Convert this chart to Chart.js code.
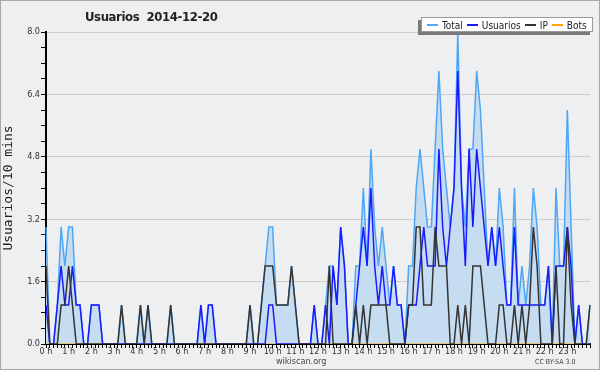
<!DOCTYPE html>
<html lang="es">
<head>
  <meta charset="UTF-8" />
  <title>Usuarios 2014-12-20</title>
  <script src="https://cdn.jsdelivr.net/npm/chart.js"></script>
  <style>
    body {
      margin: 0;
      background: #fff;
    }

    .wrap {
      position: relative;
      width: 600px;
      height: 370px;
      background: #eeeff1;
      font-family: "DejaVu Sans Condensed", "DejaVu Sans", sans-serif;
      color: #222;
    }

    .wrap canvas {
      position: absolute;
      left: 0;
      top: 0;
    }

    .frame {
      position: absolute;
      left: 0;
      top: 0;
      width: 600px;
      height: 370px;
      box-sizing: border-box;
      border: 1px solid #a8a8a8;
      pointer-events: none;
    }

    .titulo {
      position: absolute;
      left: 85px;
      top: 9px;
      font-weight: bold;
      font-size: 13px;
      letter-spacing: -0.4px;
      white-space: pre;
    }

    .leyenda {
      position: absolute;
      left: 421px;
      top: 17px;
      width: 172px;
      height: 15px;
      box-sizing: border-box;
      background: #fff;
      border: 1px solid #999;
      box-shadow: -3px 3px 0 #7a7a7a;
      font-size: 10px;
      line-height: 13px;
      padding-left: 4px;
      white-space: nowrap;
    }

    .leyenda span {
      display: inline-block;
      vertical-align: middle;
    }

    .leyenda .linea {
      width: 11px;
      height: 2px;
      margin: 0 4px 0 1px;
    }

    .pie {
      position: absolute;
      top: 356px;
      font-size: 9px;
      color: #444;
    }
  </style>
</head>
<body>

  <div class="wrap">
    <canvas id="grafico" width="600" height="370"></canvas>
    <div class="titulo">Usuarios  2014-12-20</div>
    <div class="leyenda" id="leyenda"></div>
    <div class="pie" style="left:276px;">wikiscan.org</div>
    <div class="pie" style="left:535px; top:358px; font-size:7px;">CC BY-SA 3.0</div>
    <div class="frame"></div>
  </div>

  <script>
    // horas del eje X (un punto cada 10 minutos, 0 h .. 24 h)
    const horas = ['0 h', '1 h', '2 h', '3 h', '4 h', '5 h', '6 h', '7 h', '8 h', '9 h', '10 h', '11 h',
                   '12 h', '13 h', '14 h', '15 h', '16 h', '17 h', '18 h', '19 h', '20 h', '21 h', '22 h', '23 h'];

    const usuarios = [
      1,0,0,1,2,1,1,2,1,1,0,0,
      1,1,1,0,0,0,0,0,0,0,0,0,
      0,0,0,0,0,0,0,0,0,0,0,0,
      0,0,0,0,0,1,0,1,1,0,0,0,
      0,0,0,0,0,0,0,0,0,0,0,1,
      1,0,0,0,0,0,0,0,0,0,0,1,
      0,0,1,0,2,1,3,2,0,0,1,2,
      3,2,4,2,1,2,1,1,2,1,1,0,
      1,1,1,2,3,2,2,2,5,3,2,3,
      4,7,4,2,5,3,5,4,3,2,3,2,
      3,2,1,1,3,1,1,1,1,1,1,1,
      1,2,0,2,2,2,3,2,0,1,0,0,
      0
    ];

    const ip = [
      2,0,0,0,1,1,2,1,0,0,0,0,
      0,0,0,0,0,0,0,0,1,0,0,0,
      0,1,0,1,0,0,0,0,0,1,0,0,
      0,0,0,0,0,0,0,0,0,0,0,0,
      0,0,0,0,0,0,1,0,0,1,2,2,
      2,1,1,1,1,2,1,0,0,0,0,0,
      0,0,0,2,0,0,0,0,0,0,1,0,
      1,0,1,1,1,1,1,0,0,0,0,0,
      1,1,3,3,1,1,1,3,2,2,2,0,
      0,1,0,1,0,2,2,2,1,0,0,0,
      1,1,0,0,1,0,1,0,1,3,2,0,
      0,0,0,2,0,0,3,1,0,0,0,0,
      1
    ];

    const total = [
      3,0,0,1,3,2,3,3,1,1,0,0,
      1,1,1,0,0,0,0,0,1,0,0,0,
      0,1,0,1,0,0,0,0,0,1,0,0,
      0,0,0,0,0,1,0,1,1,0,0,0,
      0,0,0,0,0,0,1,0,0,1,2,3,
      3,1,1,1,1,2,1,0,0,0,0,1,
      0,0,1,2,2,1,3,2,0,0,2,2,
      4,2,5,3,2,3,2,1,2,1,1,0,
      2,2,4,5,4,3,3,5,7,5,4,3,
      4,8,4,3,5,5,7,6,4,2,3,2,
      4,3,1,1,4,1,2,1,2,4,3,1,
      1,2,0,4,2,2,6,3,0,1,0,0,
      1
    ];

    const bots = [
      0,0,0,0,0,0,0,0,0,0,0,0,
      0,0,0,0,0,0,0,0,0,0,0,0,
      0,0,0,0,0,0,0,0,0,0,0,0,
      0,0,0,0,0,0,0,0,0,0,0,0,
      0,0,0,0,0,0,0,0,0,0,0,0,
      0,0,0,0,0,0,0,0,0,0,0,0,
      0,0,0,0,0,0,0,0,0,0,0,0,
      0,0,0,0,0,0,0,0,0,0,0,0,
      0,0,0,0,0,0,0,0,0,0,0,0,
      0,0,0,0,0,0,0,0,0,0,0,0,
      0,0,0,0,0,0,0,0,0,0,0,0,
      0,0,0,0,0,0,0,0,0,0,0,0,
      0
    ];

    const colores = { total: '#4ea6f7', relleno: '#c6dcf0', usuarios: '#1a1aff', ip: '#333333', bots: '#ffa500' };

    // etiquetas: solo las horas en punto llevan texto
    const etiquetas = [];
    for (let i = 0; i < total.length; i++) {
      etiquetas.push(i % 6 === 0 && i / 6 < horas.length ? horas[i / 6] : '');
    }

    const esMayor = v => Math.abs(v / 1.6 - Math.round(v / 1.6)) < 1e-6;
    const fuente = { family: '"DejaVu Sans Condensed", "DejaVu Sans", sans-serif', size: 9 };

    const ctx = document.getElementById('grafico').getContext('2d');
    const grafico = new Chart(ctx, {
      type: 'line',
      data: {
        labels: etiquetas,
        datasets: [
          { label: 'IP', data: ip, borderColor: colores.ip, borderWidth: 1.5, pointRadius: 0, fill: false, order: 1 },
          { label: 'Usuarios', data: usuarios, borderColor: colores.usuarios, borderWidth: 1.5, pointRadius: 0, fill: false, order: 2 },
          { label: 'Bots', data: bots, borderColor: colores.bots, borderWidth: 1, pointRadius: 0, fill: false, order: 3 },
          { label: 'Total', data: total, borderColor: colores.total, backgroundColor: colores.relleno, borderWidth: 1.5, pointRadius: 0, fill: 'origin', order: 4 }
        ]
      },
      options: {
        responsive: false,
        animation: false,
        devicePixelRatio: 1,
        layout: { padding: { top: 32, right: 10, bottom: 0, left: 0 } },
        plugins: {
          legend: { display: false },
          tooltip: { enabled: false },
          filler: { drawTime: 'beforeDatasetsDraw' }
        },
        scales: {
          x: {
            z: 1,
            afterFit: s => { s.height = 26; },
            grid: { drawOnChartArea: false, tickLength: 4, tickColor: '#000', tickWidth: 1 },
            border: { color: '#000', width: 2 },
            ticks: { autoSkip: false, maxRotation: 0, padding: -2, color: '#333', font: fuente }
          },
          y: {
            min: 0,
            max: 8,
            afterFit: s => { s.width = 46; },
            grid: {
              color: c => (c.tick && esMayor(c.tick.value)) ? '#cdcdcd' : 'rgba(0,0,0,0)',
              tickColor: '#000',
              tickLength: 5
            },
            border: { color: '#000', width: 2 },
            ticks: {
              stepSize: 0.4,
              padding: 1,
              color: '#333',
              font: fuente,
              callback: v => esMayor(v) ? v.toFixed(1) : ''
            },
            title: {
              display: true,
              text: 'Usuarios/10 mins',
              color: '#222',
              padding: { top: 1, bottom: 0 },
              font: { family: '"DejaVu Sans Mono", monospace', size: 13 }
            }
          }
        }
      }
    });

    // leyenda en HTML, mismo orden que la original
    const leyenda = [
      ['Total', colores.total], ['Usuarios', colores.usuarios], ['IP', colores.ip], ['Bots', colores.bots]
    ];
    document.getElementById('leyenda').innerHTML = leyenda.map(([t, c]) =>
      `<span class="linea" style="background:${c}"></span><span style="margin-right:3px">${t}</span>`
    ).join('');
  </script>

</body>
</html>
